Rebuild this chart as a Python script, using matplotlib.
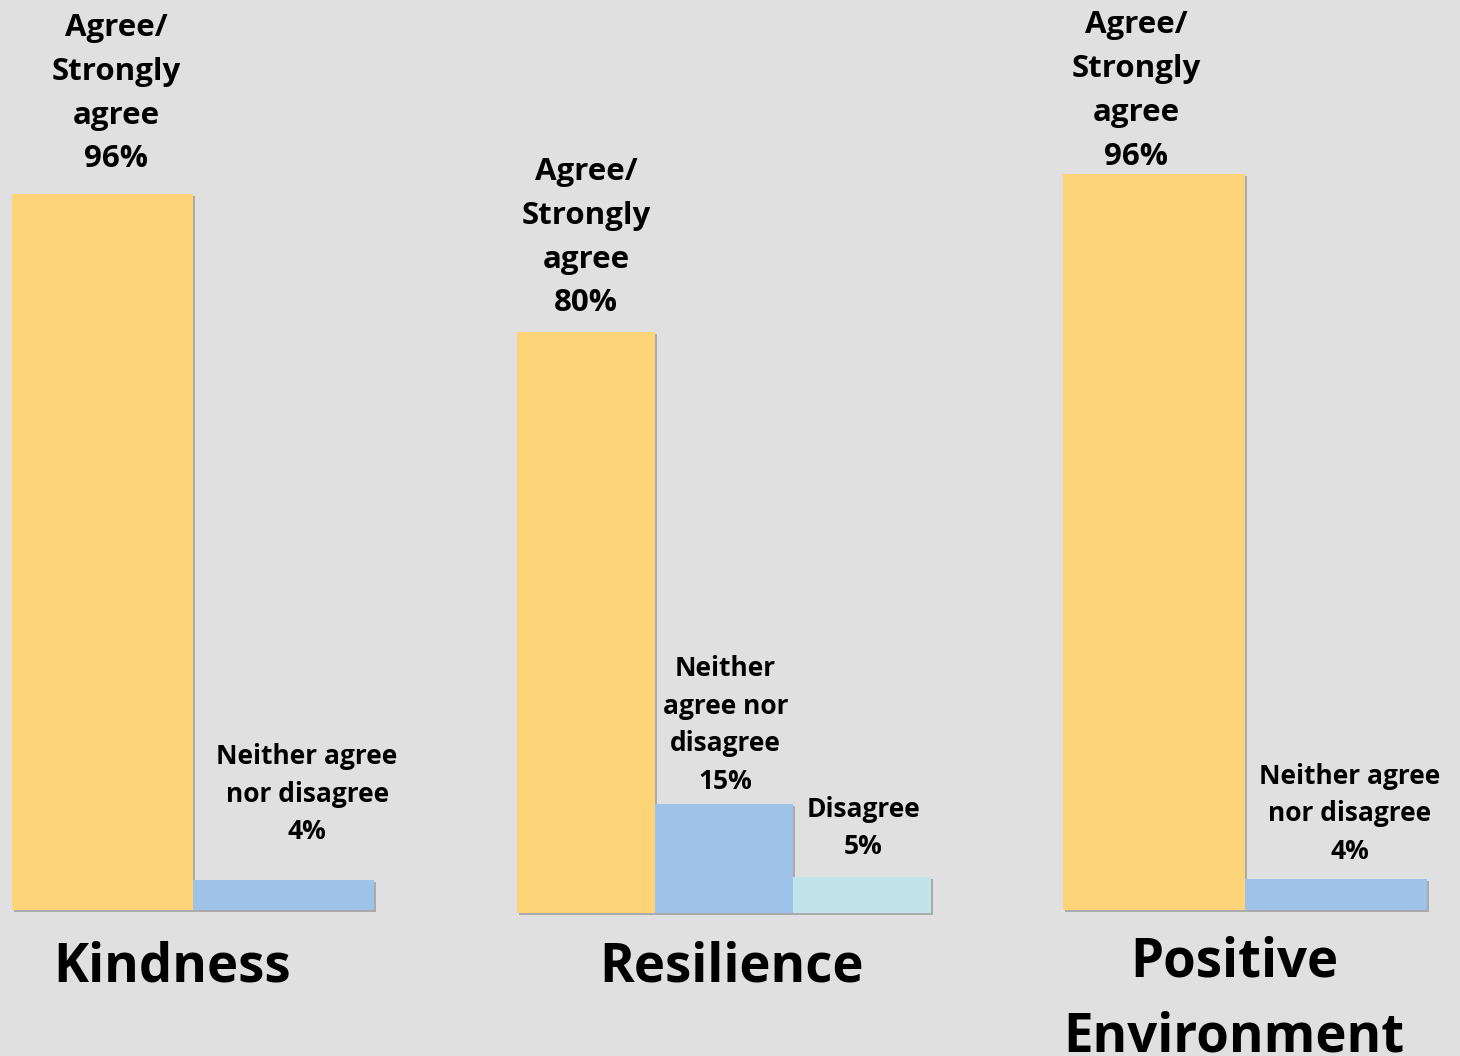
import matplotlib.pyplot as plt
import matplotlib.patheffects as pe

# Survey results, one panel per theme
categories = ["Kindness", "Resilience", "Positive\nEnvironment"]

kindness_labels = ["Agree/\nStrongly\nagree", "Neither agree\nnor disagree"]
kindness_values = [96, 4]

resilience_labels = ["Agree/\nStrongly\nagree", "Neither\nagree nor\ndisagree", "Disagree"]
resilience_values = [80, 15, 5]

positive_labels = ["Agree/\nStrongly\nagree", "Neither agree\nnor disagree"]
positive_values = [96, 4]

BG = "#e0e0e0"
COLORS = ["#fed478", "#9fc2e9", "#c1e3ea"]
W, H = 1460, 1056

plt.rcParams["font.family"] = ["Open Sans", "DejaVu Sans"]

fig = plt.figure(figsize=(W / 100, H / 100), dpi=100, facecolor=BG)


def px_axes(left, right, base, scale):
    """Axes placed in pixel coords; scale = pixels per percent."""
    height = 100 * scale
    ax = fig.add_axes([left / W, (H - base) / H, (right - left) / W, height / H])
    ax.set_facecolor(BG)
    ax.patch.set_alpha(0)
    for s in ax.spines.values():
        s.set_visible(False)
    ax.set_xticks([])
    ax.set_yticks([])
    ax.set_ylim(0, 100)
    return ax


def draw_panel(ax, labels, values, label_dx, label_dy, sizes):
    n = len(values)
    ax.set_xlim(0, n)
    shadow = [pe.SimplePatchShadow(offset=(1.5, -1.5), shadow_rgbFace="#888888", alpha=0.6), pe.Normal()]
    bars = ax.bar(range(n), values, width=1, align="edge", color=COLORS[:n], linewidth=0)
    for b in bars:
        b.set_path_effects(shadow)
        b.set_clip_on(False)
    for i, (lab, v) in enumerate(zip(labels, values)):
        ax.annotate(f"{lab}\n{v}%", xy=(i + 0.5, v), xytext=(label_dx[i], label_dy[i]),
                    textcoords="offset points", ha="center", va="bottom",
                    fontsize=sizes[i], fontweight="bold",
                    linespacing=1.6 if sizes[i] > 20 else 1.5,
                    annotation_clip=False)


ax1 = px_axes(12, 374, 910, 7.46)
draw_panel(ax1, kindness_labels, kindness_values, [10, 17], [14, 25.3], [22.5, 19])

ax2 = px_axes(517, 931, 913, 7.26)
draw_panel(ax2, resilience_labels, resilience_values, [0, 1, 1], [10, 6.9, 12], [22.5, 19, 19])

ax3 = px_axes(1063, 1427, 910, 7.67)
draw_panel(ax3, positive_labels, positive_values, [-13, 10], [1.5, 10.5], [22.5, 19])

# category titles under each panel
fig.text(172 / W, 1 - 967 / H, categories[0], ha="center", va="center",
         fontsize=38, fontweight="bold")
fig.text(731 / W, 1 - 968 / H, categories[1], ha="center", va="center",
         fontsize=38, fontweight="bold")
fig.text(1234 / W, 1 - 1000 / H, categories[2], ha="center", va="center",
         fontsize=38, fontweight="bold", linespacing=1.5)

fig.savefig("out.png", dpi=100, facecolor=BG)
